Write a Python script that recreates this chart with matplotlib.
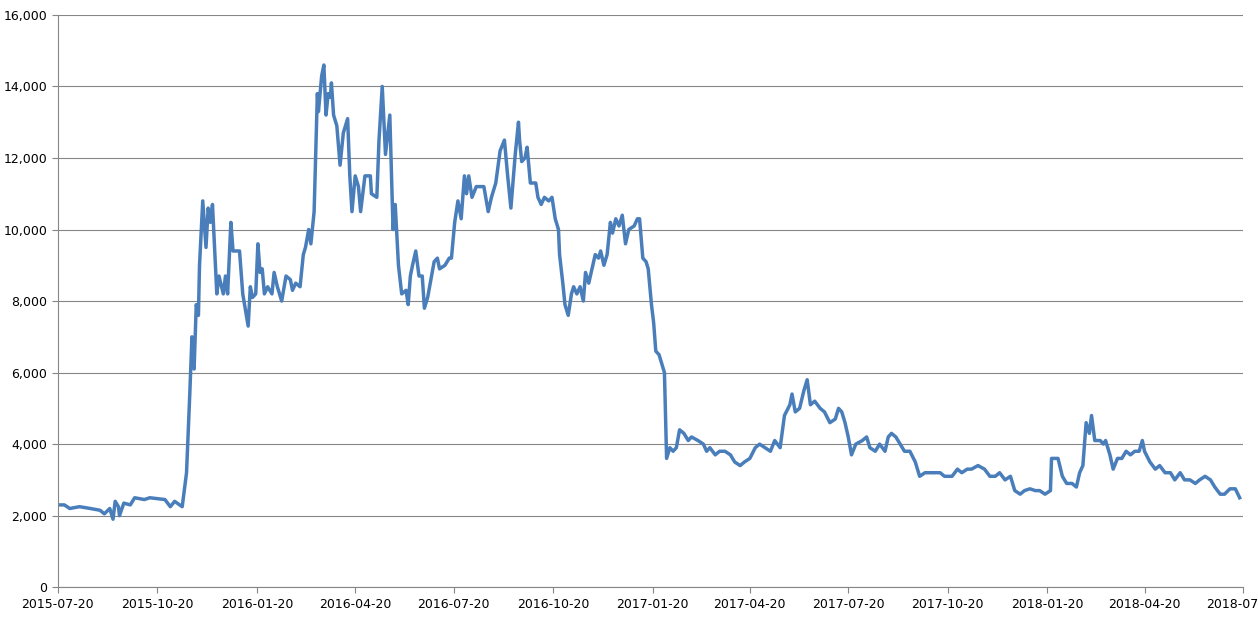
import numpy as np
import pandas as pd
import matplotlib
matplotlib.use("Agg")
import matplotlib.pyplot as plt
import matplotlib.dates as mdates
from matplotlib.ticker import FuncFormatter

start = pd.Timestamp("2015-07-20")

# days since 2015-07-20
days = [0, 6, 11, 20, 30, 39, 43, 48, 51, 53, 56, 57, 61, 67, 71, 80, 85, 99, 104, 108,
        115, 119, 122, 124, 126, 128, 130, 131, 134, 137, 139, 141, 143, 147, 149, 153, 155, 157, 160, 162,
        168, 171, 176, 178, 180, 183, 185, 187, 189, 191, 194, 198, 200, 203, 207, 211, 215, 217, 220, 224,
        227, 229, 232, 234, 237, 240, 241, 244, 246, 248, 250, 252, 253, 255, 258, 261, 264, 268, 270, 272,
        275, 278, 280, 284, 289, 290, 295, 297, 300, 303, 307, 310, 312, 315, 318, 322, 324, 326, 328, 331,
        334, 337, 339, 342, 345, 348, 351, 353, 358, 362, 364, 367, 370, 373, 376, 378, 380, 383, 387, 390,
        394, 398, 401, 405, 409, 413, 416, 419, 423, 426, 427, 429, 432, 434, 437, 442, 444, 447, 450, 454,
        457, 460, 463, 464, 467, 469, 472, 475, 477, 480, 483, 486, 488, 491, 494, 497, 500, 502, 505, 508,
        511, 513, 516, 519, 522, 525, 528, 533, 536, 538, 541, 544, 546, 549, 551, 553, 556, 559, 561, 563,
        566, 569, 572, 575, 579, 583, 586, 592, 597, 600, 603, 608, 612, 617, 622, 626, 631, 635, 640, 645,
        649, 654, 659, 663, 668, 672, 677, 679, 682, 686, 690, 693, 696, 700, 705, 709, 714, 719, 722, 725,
        728, 731, 734, 738, 744, 748, 751, 756, 760, 765, 768, 771, 775, 779, 783, 788, 793, 797, 802, 811,
        816, 820, 827, 832, 836, 841, 845, 851, 857, 862, 867, 871, 876, 881, 885, 890, 894, 899, 904, 908,
        913, 918, 919, 925, 929, 933, 938, 942, 945, 948, 951, 954, 956, 959, 964, 967, 969, 973, 976, 980,
        984, 988, 992, 996, 1000, 1003, 1005, 1010, 1015, 1019, 1024, 1029, 1033, 1038, 1042, 1047, 1052, 1056, 1061, 1066,
        1070, 1075, 1079, 1084, 1089, 1093]
values = [2300, 2300, 2200, 2250, 2200, 2150, 2050, 2200, 1900, 2400, 2250, 2000, 2350, 2300, 2500, 2450, 2500, 2450, 2250, 2400,
          2250, 3200, 5400, 7000, 6100, 7900, 7600, 9000, 10800, 9500, 10600, 10200, 10700, 8200, 8700, 8200, 8700, 8200, 10200, 9400,
          9400, 8200, 7300, 8400, 8100, 8200, 9600, 8800, 8900, 8200, 8400, 8200, 8800, 8400, 8000, 8700, 8600, 8300, 8500, 8400,
          9300, 9500, 10000, 9600, 10500, 13800, 13300, 14300, 14600, 13200, 13800, 13700, 14100, 13200, 12900, 11800, 12700, 13100, 11500, 10500,
          11500, 11200, 10500, 11500, 11500, 11000, 10900, 12500, 14000, 12100, 13200, 10000, 10700, 9000, 8200, 8300, 7900, 8700, 9000, 9400,
          8700, 8700, 7800, 8100, 8600, 9100, 9200, 8900, 9000, 9200, 9200, 10200, 10800, 10300, 11500, 11000, 11500, 10900, 11200, 11200,
          11200, 10500, 10900, 11300, 12200, 12500, 11500, 10600, 12100, 13000, 12500, 11900, 12000, 12300, 11300, 11300, 10900, 10700, 10900, 10800,
          10900, 10300, 10000, 9300, 8500, 7900, 7600, 8200, 8400, 8200, 8400, 8000, 8800, 8500, 8900, 9300, 9200, 9400, 9000, 9300,
          10200, 9900, 10300, 10100, 10400, 9600, 10000, 10100, 10300, 10300, 9200, 9100, 8900, 7900, 7400, 6600, 6500, 6200, 6000, 3600,
          3900, 3800, 3900, 4400, 4300, 4100, 4200, 4100, 4000, 3800, 3900, 3700, 3800, 3800, 3700, 3500, 3400, 3500, 3600, 3900,
          4000, 3900, 3800, 4100, 3900, 4800, 5100, 5400, 4900, 5000, 5500, 5800, 5100, 5200, 5000, 4900, 4600, 4700, 5000, 4900,
          4600, 4200, 3700, 4000, 4100, 4200, 3900, 3800, 4000, 3800, 4200, 4300, 4200, 4000, 3800, 3800, 3500, 3100, 3200, 3200,
          3200, 3100, 3100, 3300, 3200, 3300, 3300, 3400, 3300, 3100, 3100, 3200, 3000, 3100, 2700, 2600, 2700, 2750, 2700, 2700,
          2600, 2700, 3600, 3600, 3100, 2900, 2900, 2800, 3200, 3400, 4600, 4300, 4800, 4100, 4100, 4000, 4100, 3700, 3300, 3600,
          3600, 3800, 3700, 3800, 3800, 4100, 3800, 3500, 3300, 3400, 3200, 3200, 3000, 3200, 3000, 3000, 2900, 3000, 3100, 3000,
          2800, 2600, 2600, 2750, 2750, 2500]

tick_labels = ["2015-07-20", "2015-10-20", "2016-01-20", "2016-04-20", "2016-07-20", "2016-10-20",
               "2017-01-20", "2017-04-20", "2017-07-20", "2017-10-20", "2018-01-20", "2018-04-20", "2018-07-20"]

dates = start + pd.to_timedelta(days, unit="D")

fig = plt.figure(figsize=(12.58, 6.22), dpi=100)
ax = fig.add_axes([0.046, 0.056, 0.942, 0.92])
ax.plot(dates, values, color="#4A7EBB", lw=2.5)

ax.set_ylim(0, 16000)
ax.set_yticks(np.arange(0, 16001, 2000))
ax.yaxis.set_major_formatter(FuncFormatter(lambda v, p: f"{int(v):,}"))
ax.grid(axis="y", color="#868686", lw=0.8)
ax.set_axisbelow(True)

ticks = pd.to_datetime(tick_labels)
ax.set_xlim(ticks[0], ticks[-1])
ax.set_xticks(ticks)
ax.xaxis.set_major_formatter(mdates.DateFormatter("%Y-%m-%d"))
ax.tick_params(labelsize=9, length=4, color="#868686")
for s in ["top", "right"]:
    ax.spines[s].set_visible(False)
for s in ["left", "bottom"]:
    ax.spines[s].set_color("#868686")

fig.savefig("out.png")
